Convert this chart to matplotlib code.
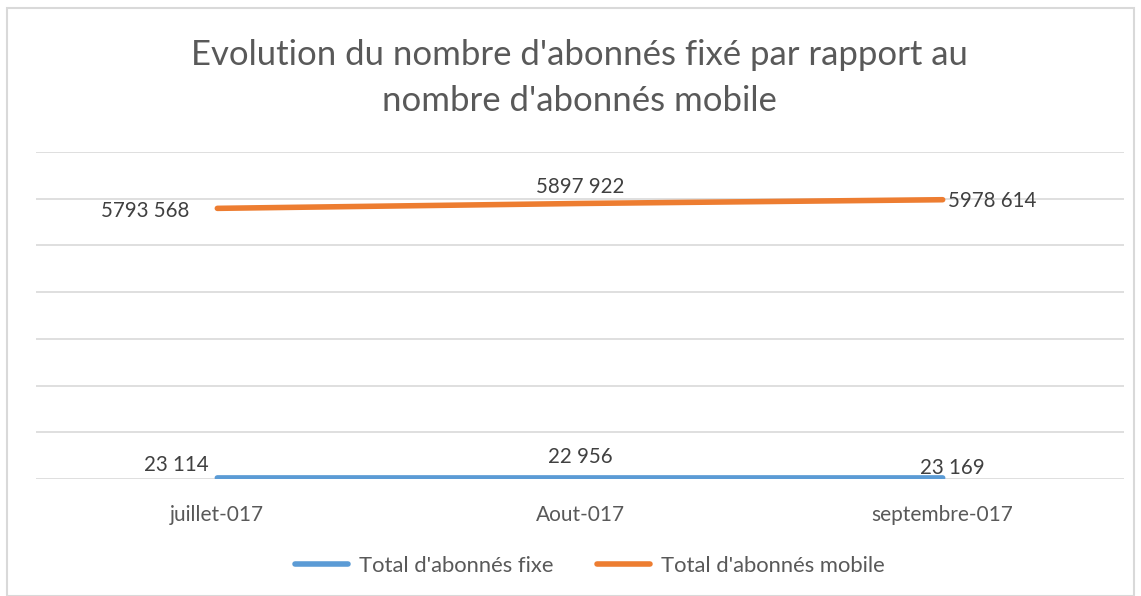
import matplotlib.pyplot as plt
from matplotlib.patches import Rectangle

mois   = ["juillet-017", "Aout-017", "septembre-017"]
fixe   = [23114, 22956, 23169]
mobile = [5793568, 5897922, 5978614]
lbl_fixe   = ["23 114", "22 956", "23 169"]
lbl_mobile = ["5793 568", "5897 922", "5978 614"]

bleu   = "#5b9bd5"
orange = "#ed7d31"

plt.rcParams['font.family'] = ['Lato', 'DejaVu Sans']

fig = plt.figure(figsize=(11.41, 5.96), dpi=100)
ax = fig.add_axes([36/1141, 1-479/596, 1088/1141, (479-152)/596])

x = range(len(mois))
ax.plot(x, fixe, color=bleu, lw=4, solid_capstyle='round', label="Total d'abonnés fixe", zorder=3)
ax.plot(x, mobile, color=orange, lw=4, solid_capstyle='round', label="Total d'abonnés mobile", zorder=3)

ax.set_xlim(-0.5, 2.5)
ax.set_ylim(0, 7000000)
ax.set_yticks(range(0, 7000001, 1000000))
ax.yaxis.grid(True, color="#d9d9d9", lw=1.2)
ax.set_yticklabels([])
ax.tick_params(axis='y', length=0)
ax.tick_params(axis='x', length=0, labelsize=15, labelcolor="#595959", pad=19)
ax.set_xticks(list(x))
ax.set_xticklabels(mois)
for s in ax.spines.values():
    s.set_visible(False)

# etiquettes de donnees
pos = [(-6, 2, 'right', 'bottom'), (0, 8, 'center', 'bottom'), (-16.5, 0, 'left', 'bottom')]
for i in x:
    dx, dy, ha, va = pos[i]
    ax.annotate(lbl_fixe[i], (i, fixe[i]), xytext=(dx, dy), textcoords='offset points',
                ha=ha, va=va, fontsize=14.8, color="#404040")
pos_m = [(-20, -2, 'right', 'center'), (0, 5, 'center', 'bottom'), (4, -1, 'left', 'center')]
for i in x:
    dx, dy, ha, va = pos_m[i]
    ax.annotate(lbl_mobile[i], (i, mobile[i]), xytext=(dx, dy), textcoords='offset points',
                ha=ha, va=va, fontsize=14.8, color="#404040")

fig.text(0.508, 1-55/596, "Evolution du nombre d'abonnés fixé par rapport au",
         ha='center', va='center', fontsize=25, color="#595959")
fig.text(0.508, 1-101/596, "nombre d'abonnés mobile",
         ha='center', va='center', fontsize=25, color="#595959")

fig.legend(loc='center', bbox_to_anchor=(0.517, 1-566/596), ncol=2, frameon=False,
           fontsize=15.8, labelcolor="#595959", handlelength=2.4, columnspacing=2.0,
           handletextpad=0.5)

fig.patches.append(Rectangle((7/1141, 0), 1-14/1141, 1-8/596, transform=fig.transFigure,
                             fill=False, edgecolor="#d9d9d9", lw=1.5))

fig.savefig("out.png", dpi=100)
